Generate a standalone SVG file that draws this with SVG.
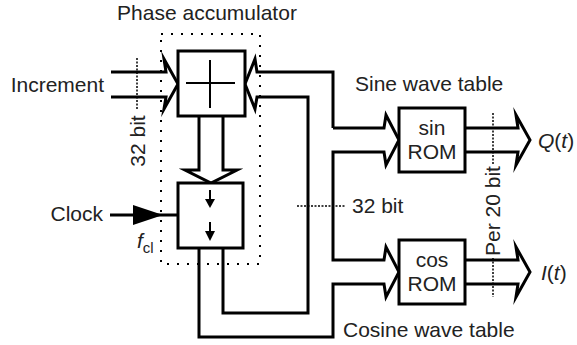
<svg xmlns="http://www.w3.org/2000/svg" width="577" height="345" viewBox="0 0 577 345">
<style>
text{font-family:"Liberation Sans",Arial,sans-serif;font-size:21px;fill:#222}
.box{fill:#fff;stroke:#000;stroke-width:3}
.w{fill:none;stroke:#000;stroke-width:3;stroke-miterlimit:10}
.dot{fill:none;stroke:#000;stroke-width:2;stroke-dasharray:2 8}
.fd{fill:none;stroke:#000;stroke-width:1.5;stroke-dasharray:2 1.5}
.it{font-style:italic}
</style>
<rect class="dot" x="161" y="34" width="99" height="230"/>
<text x="207" y="20" text-anchor="middle">Phase accumulator</text>
<g id="connectors">
  <path class="w" d="M111,72 H166 L164,59 L178,84 L164,109 L166,97 H111"/>
  <path class="w" d="M333,128 V72 H257 L255,59 L245,84 L255,109 L257,97 H308 V313 H223 V248"/>
  <path class="w" d="M199,116 V170 H185 L211,183 L237,170 H223 V116"/>
  <path class="w" d="M199,248 V337 H333 V284 H384 L386,297 L399,272 L386,247 L384,260 H333 V152 H384 L386,165 L399,140 L386,115 L384,128 H333"/>
  <path class="w" d="M465,128 H518 L516,115 L530,140 L516,165 L518,152 H465"/>
  <path class="w" d="M465,260 H518 L516,247 L530,272 L516,297 L518,284 H465"/>
  <path class="w" d="M110,215 H178"/>
  <polygon points="133,205 163,215 133,225" fill="#000"/>
  <path class="fd" d="M137,58 V110"/>
  <path class="fd" d="M297,206 H345"/>
  <path class="fd" d="M493,113 V165 M493,258 V297"/>
</g>
<g id="adder">
  <rect class="box" x="178" y="51" width="67" height="65"/>
  <path d="M186,83 H235 M210,60 V108" stroke="#000" stroke-width="2"/>
</g>
<g id="register">
  <rect class="box" x="178" y="183" width="65" height="65"/>
  <path d="M210,190 V200 M210,222 V232" stroke="#000" stroke-width="2"/>
  <polygon points="205,199 215,199 210,208" fill="#000"/>
  <polygon points="205,231 215,231 210,241" fill="#000"/>
</g>
<g id="sinrom">
  <rect class="box" x="399" y="108" width="66" height="64"/>
  <text x="432" y="135" text-anchor="middle">sin</text>
  <text x="432" y="159" text-anchor="middle">ROM</text>
</g>
<g id="cosrom">
  <rect class="box" x="399" y="240" width="66" height="64"/>
  <text x="432" y="267" text-anchor="middle">cos</text>
  <text x="432" y="291" text-anchor="middle">ROM</text>
</g>
<g id="labels">
  <text x="104" y="92" text-anchor="end">Increment</text>
  <text x="145" y="141" text-anchor="middle" transform="rotate(-90 145 141)">32 bit</text>
  <text x="103" y="221" text-anchor="end">Clock</text>
  <text x="137" y="248"><tspan class="it">f</tspan><tspan font-size="15" dy="5">cl</tspan></text>
  <text x="352" y="213">32 bit</text>
  <text x="355" y="91">Sine wave table</text>
  <text x="343" y="337">Cosine wave table</text>
  <text x="500" y="211" text-anchor="middle" transform="rotate(-90 500 211)">Per 20 bit</text>
  <text x="538" y="148"><tspan class="it">Q</tspan>(<tspan class="it">t</tspan>)</text>
  <text x="541" y="280"><tspan class="it">I</tspan>(<tspan class="it">t</tspan>)</text>
</g>
</svg>
